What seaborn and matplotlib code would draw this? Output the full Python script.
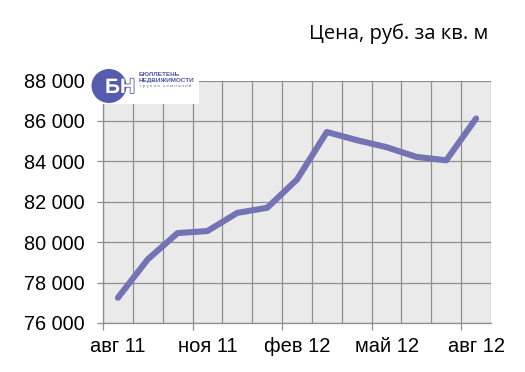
#!/usr/bin/env python3
"""
Average asking price per square metre, Aug 2011 - Aug 2012 (line chart).

Writes:
  out.png
"""

import pandas as pd
import seaborn as sns
import matplotlib.pyplot as plt
import matplotlib.patheffects as pe
from matplotlib.patches import Ellipse, Rectangle
from matplotlib.ticker import FixedLocator, FuncFormatter


MONTHS = ["авг 11", "сен 11", "окт 11", "ноя 11", "дек 11", "янв 12", "фев 12",
          "мар 12", "апр 12", "май 12", "июн 12", "июл 12", "авг 12"]
PRICES = [77250, 79150, 80450, 80550, 81450, 81700, 83100,
          85450, 85050, 84700, 84220, 84050, 86120]
X_LABELS = ["авг 11", "ноя 11", "фев 12", "май 12", "авг 12"]
Y_TICKS = [76000, 78000, 80000, 82000, 84000, 86000, 88000]

TITLE = "Цена, руб. за кв. м"
LINE_COLOR = "#7474b5"
GRID_COLOR = "#8e8e8e"
LOGO_BLUE = "#555cae"


def setup_style():
    sns.set_theme(style="white")
    plt.rcParams["font.family"] = ["Liberation Sans", "DejaVu Sans"]
    plt.rcParams["text.color"] = "black"
    plt.rcParams["xtick.labelcolor"] = "black"
    plt.rcParams["ytick.labelcolor"] = "black"


def draw_logo(fig):
    # white box of the company badge sitting over the top-left plot corner
    fig.patches.append(Rectangle((99 / 525, 1 - 104 / 372), 100 / 525, 41 / 372,
                                 transform=fig.transFigure, facecolor="white",
                                 edgecolor="none", zorder=5))
    fig.patches.append(Ellipse((109 / 525, 1 - 86 / 372), 35 / 525, 34 / 372,
                               transform=fig.transFigure, facecolor=LOGO_BLUE,
                               edgecolor="none", zorder=6))
    fig.text(120 / 525, 1 - 87.5 / 372, "БН", color="white", fontsize=15,
             fontweight="bold", ha="center", va="center", zorder=7,
             path_effects=[pe.withStroke(linewidth=1.2, foreground=LOGO_BLUE)])
    fig.text(139 / 525, 1 - 75 / 372, "БЮЛЛЕТЕНЬ", color="#4b52a2",
             fontsize=4.6, fontweight="bold", va="center", zorder=7)
    fig.text(139 / 525, 1 - 80.5 / 372, "НЕДВИЖИМОСТИ", color="#4b52a2",
             fontsize=4.6, fontweight="bold", va="center", zorder=7)
    fig.text(140 / 525, 1 - 86.5 / 372, "г р у п п а   к о м п а н и й",
             color="#6a6e9c", fontsize=3.2, va="center", zorder=7)


def plot_price(path="out.png"):
    df = pd.DataFrame({"month": MONTHS, "price": PRICES})
    df["idx"] = range(len(df))

    fig = plt.figure(figsize=(5.25, 3.72), dpi=100)
    ax = fig.add_axes([103 / 525, 1 - 323 / 372, 388 / 525, 242.5 / 372])
    ax.set_facecolor("#eaeaea")

    # category boundaries carry the vertical grid
    for b in range(len(MONTHS) + 1):
        ax.axvline(b - 0.5, color=GRID_COLOR, lw=0.9, zorder=1)
    for v in Y_TICKS:
        ax.axhline(v, color=GRID_COLOR, lw=0.9, zorder=1)

    sns.lineplot(data=df, x="idx", y="price", color=LINE_COLOR, lw=4.4,
                 solid_capstyle="round", solid_joinstyle="round", ax=ax,
                 zorder=3)

    ax.set_xlim(-0.5, len(MONTHS) - 0.5)
    ax.set_ylim(Y_TICKS[0], Y_TICKS[-1])

    ax.xaxis.set_major_locator(FixedLocator([MONTHS.index(m) for m in X_LABELS]))
    ax.set_xticklabels(X_LABELS)
    ax.xaxis.set_minor_locator(FixedLocator([-0.5, 2.5, 5.5, 8.5, 11.5]))
    ax.tick_params(axis="x", which="major", length=0, pad=10, labelsize=14.5)
    ax.tick_params(axis="x", which="minor", length=5, width=0.9,
                   color=GRID_COLOR, direction="out", bottom=True)

    ax.set_yticks(Y_TICKS)
    ax.yaxis.set_major_formatter(
        FuncFormatter(lambda v, _: f"{int(v):,}".replace(",", " ")))
    ax.tick_params(axis="y", length=4, width=0.9, color=GRID_COLOR,
                   direction="out", left=True, pad=9, labelsize=14.3)

    for side in ["left", "bottom"]:
        ax.spines[side].set_color(GRID_COLOR)
        ax.spines[side].set_linewidth(0.9)
    for side in ["top", "right"]:
        ax.spines[side].set_visible(False)

    ax.set_xlabel("")
    ax.set_ylabel("")

    fig.text(488 / 525, 1 - 38.5 / 372, TITLE, ha="right", va="baseline",
             fontsize=14.5, color="black", family=["Open Sans", "DejaVu Sans"])

    draw_logo(fig)

    fig.savefig(path, dpi=100, facecolor="white")
    plt.close(fig)


def main():
    setup_style()
    plot_price()


if __name__ == "__main__":
    main()
